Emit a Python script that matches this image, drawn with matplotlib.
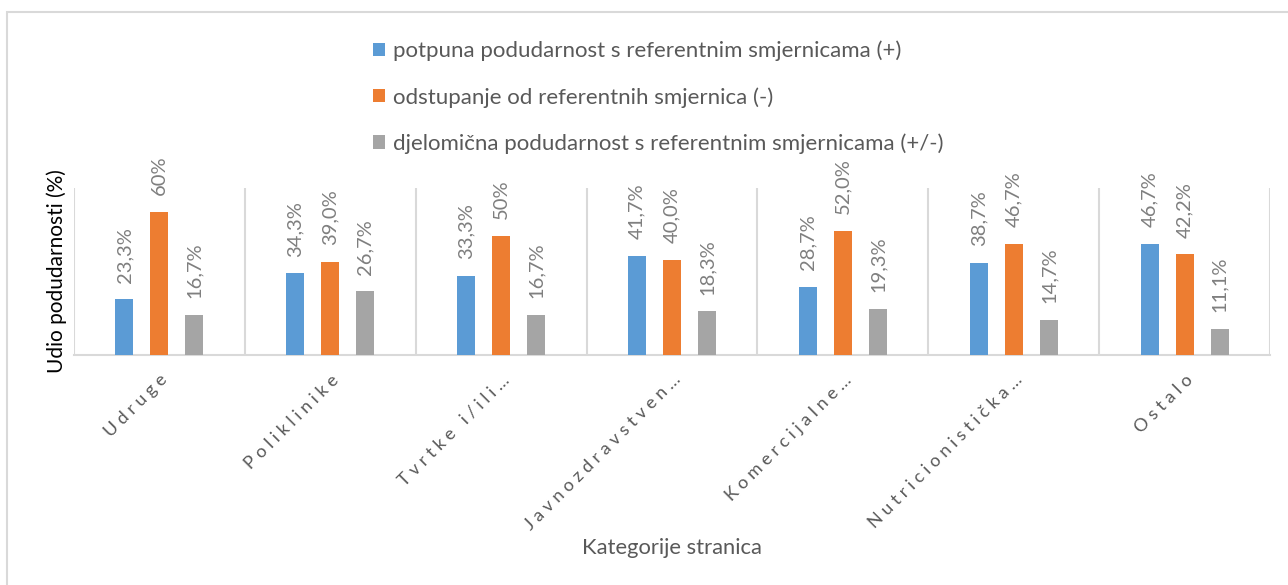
import matplotlib
matplotlib.use("Agg")
from matplotlib import pyplot as plt
from matplotlib.patches import Rectangle
import numpy as np

plt.rcParams['font.family'] = ['Lato', 'DejaVu Sans']

categories = ["Udruge", "Poliklinike", "Tvrtke i/ili…", "Javnozdravstven…",
              "Komercijalne…", "Nutricionistička…", "Ostalo"]
series_names = ["potpuna podudarnost s referentnim smjernicama (+)",
                "odstupanje od referentnih smjernica (-)",
                "djelomična podudarnost s referentnim smjernicama (+/-)"]
full_match = [23.3, 34.3, 33.3, 41.7, 28.7, 38.7, 46.7]
deviation = [60.0, 39.0, 50.0, 40.0, 52.0, 46.7, 42.2]
partial = [16.7, 26.7, 16.7, 18.3, 19.3, 14.7, 11.1]
labels_full = ["23,3%", "34,3%", "33,3%", "41,7%", "28,7%", "38,7%", "46,7%"]
labels_dev = ["60%", "39,0%", "50%", "40,0%", "52,0%", "46,7%", "42,2%"]
labels_part = ["16,7%", "26,7%", "16,7%", "18,3%", "19,3%", "14,7%", "11,1%"]

colors = ["#5b9bd5", "#ed7d31", "#a5a5a5"]

fig = plt.figure(figsize=(12.88, 5.85), dpi=100)
ax = fig.add_axes([74 / 1288, 1 - 355 / 585, (1270 - 74) / 1288, (355 - 188) / 585])

x = np.arange(len(categories))
width = 0.105
offsets = [-0.205, 0, 0.205]
all_values = [full_match, deviation, partial]
all_labels = [labels_full, labels_dev, labels_part]

handles = []
for vals, labs, off, col, name in zip(all_values, all_labels, offsets, colors, series_names):
    bars = ax.bar(x + off, vals, width, color=col, label=name, zorder=3)
    handles.append(bars)
    for b, lab in zip(bars, labs):
        ax.annotate(lab, (b.get_x() + b.get_width() / 2, b.get_height()),
                    xytext=(0, 12), textcoords="offset points",
                    rotation=90, ha="center", va="bottom",
                    fontsize=14.5, color="#7f7f7f")

ax.set_xlim(-0.5, len(categories) - 0.5)
ax.set_ylim(0, 70)
ax.set_yticks([])
for i in range(len(categories) + 1):
    ax.axvline(i - 0.5, color="#d9d9d9", lw=1.5, zorder=1)
for s in ["top", "right", "left"]:
    ax.spines[s].set_visible(False)
ax.spines["bottom"].set_color("#d9d9d9")
ax.spines["bottom"].set_linewidth(1.5)

spaced = ["\u2009\u2009".join(c) for c in categories]
ax.set_xticks(x)
ax.set_xticklabels(spaced, rotation=45, ha="right", va="top",
                   rotation_mode="anchor", fontsize=13, color="#595959")
ax.tick_params(axis="x", length=0, pad=12)

ax.set_ylabel("Udio podudarnosti (%)", fontsize=15, color="#000000", labelpad=5)
fig.text(672 / 1288, 1 - 548 / 585, "Kategorije stranica", ha="center", va="center",
         fontsize=15.8, color="#595959")

leg = fig.legend(handles=handles, loc="upper left", bbox_to_anchor=(364 / 1288, 1 - 32 / 585),
                 frameon=False, fontsize=16, labelcolor="#595959",
                 handlelength=0.55, handleheight=0.55, handletextpad=0.35,
                 labelspacing=1.15, borderaxespad=0)

fig.patches.append(Rectangle((7 / 1288, -0.1), 1.2, 1 - 12 / 585 + 0.1,
                             transform=fig.transFigure, fill=False,
                             edgecolor="#d9d9d9", lw=1.5))

fig.savefig("out.png", dpi=100)
